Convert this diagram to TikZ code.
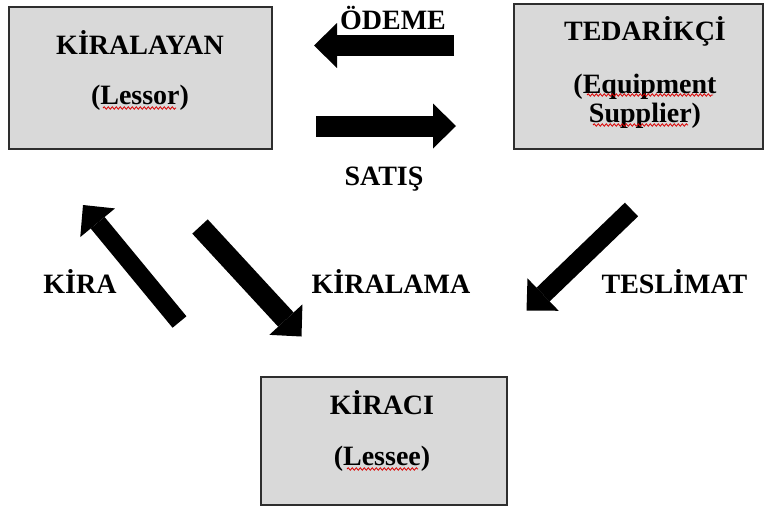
\documentclass[tikz,border=0pt]{standalone}
\usepackage{fontspec}
\setmainfont{Liberation Serif}
\usetikzlibrary{arrows.meta,decorations.pathmorphing}
\definecolor{boxfill}{HTML}{D9D9D9}
\definecolor{boxline}{HTML}{2E2E2E}
\begin{document}
\begin{tikzpicture}[x=1pt,y=-1pt,
  box/.style={draw=boxline,line width=1.8pt,fill=boxfill,rectangle,inner sep=0pt,outer sep=0pt},
  lbl/.style={inner sep=0pt,anchor=base,font=\fontsize{28}{30}\selectfont\bfseries},
  blockarrow/.style={line width=#1,-{Triangle[length=23pt,width=45pt,line width=0pt]}},
  blockarrow/.default=20pt,
  squig/.style={draw=red!85!black,line width=0.8pt,decorate,decoration={snake,amplitude=1.2pt,segment length=4pt}}]
\useasboundingbox (0,0) rectangle (765,509);
% boxes
\node[box,minimum width=263pt,minimum height=142pt] (lessor) at (140.5,78) {};
\node[box,minimum width=249pt,minimum height=145pt] (supplier) at (638.5,76.5) {};
\node[box,minimum width=246pt,minimum height=128pt] (lessee) at (384,441) {};
% box texts
\node[lbl] (lessorA) at (140,54) {KİRALAYAN};
\node[lbl] (lessorB) at (140,104) {(Lessor)};
\node[lbl] (supA) at (645,40) {TEDARİKÇİ};
\node[lbl] (supB) at (645,93) {(Equipment};
\node[lbl] (supC) at (645,122) {Supplier)};
\node[lbl] (lesseeA) at (382,414) {KİRACI};
\node[lbl] (lesseeB) at (382,465) {(Lessee)};
% spell-check underlines
\draw[squig] (103,108) -- (176,108);
\draw[squig] (347,469) -- (418,469);
\draw[squig] (587,95) -- (713,95);
\draw[squig] (593,125) -- (688,125);
% arrow labels
\node[lbl] (odeme) at (393,29) {ÖDEME};
\node[lbl] (satis) at (384,185) {SATIŞ};
\node[lbl] (kira) at (80,293) {KİRA};
\node[lbl] (kiralama) at (391,293) {KİRALAMA};
\node[lbl] (teslimat) at (674.5,293) {TESLİMAT};
% arrow end points
\coordinate (odemeT) at (454,45.5);
\coordinate (odemeH) at (314,45.5);
\coordinate (satisT) at (316,126);
\coordinate (satisH) at (456,126);
\coordinate (kiraT) at (179.5,322);
\coordinate (kiraH) at (83,205);
\coordinate (kiralamaT) at (200,226.5);
\coordinate (kiralamaH) at (301.5,336.5);
\coordinate (teslimatT) at (631.5,209.5);
\coordinate (teslimatH) at (526.5,310.5);
% block arrows
\draw[blockarrow=21pt] (odemeT) -- (odemeH);
\draw[blockarrow=21pt] (satisT) -- (satisH);
\draw[blockarrow=18pt] (kiraT) -- (kiraH);
\draw[blockarrow=21pt] (kiralamaT) -- (kiralamaH);
\draw[blockarrow=19pt] (teslimatT) -- (teslimatH);
\end{tikzpicture}
\end{document}
